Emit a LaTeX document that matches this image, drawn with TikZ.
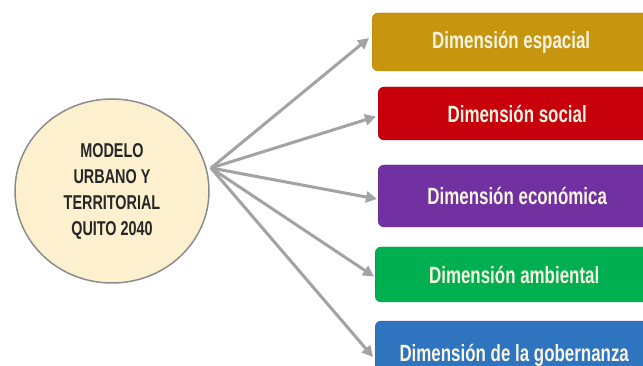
\documentclass[tikz,border=0pt]{standalone}
\usepackage{fontspec}
\setmainfont{Liberation Sans}[FakeStretch=0.72]
\usetikzlibrary{arrows.meta,shapes.geometric}
\definecolor{cfill}{HTML}{FDF0CF}
\definecolor{cline}{HTML}{8C8C8C}
\definecolor{arr}{HTML}{A3A3A3}
\definecolor{cgold}{HTML}{C8960E}
\definecolor{cred}{HTML}{C8000B}
\definecolor{cpurple}{HTML}{7131A1}
\definecolor{cgreen}{HTML}{00B050}
\definecolor{cblue}{HTML}{2F74BF}
\definecolor{btext}{HTML}{FAF4E2}
\begin{document}
\begin{tikzpicture}[x=1pt,y=-1pt,
  dimbox/.style={rounded corners=6pt, anchor=west, minimum width=278pt,
    text=btext, font=\bfseries\fontsize{23.5}{26}\selectfont, inner sep=0pt},
  link/.style={draw=arr, line width=3pt, -{Triangle[length=11pt,width=11pt]}}]
\useasboundingbox (0,0) rectangle (643,366);
\fill[white] (0,0) rectangle (643,366);
\node[ellipse, draw=cline, line width=1.5pt, fill=cfill, minimum width=194pt,
  minimum height=184pt, align=center, text=black!85,
  font=\bfseries\fontsize{20}{26}\selectfont] (model) at (112,191)
  {MODELO\\URBANO Y\\TERRITORIAL\\QUITO 2040};
\coordinate (hub) at (211,168);
\node[dimbox, fill=cgold, draw=cgold!85!black, minimum height=58pt] (b1) at (372,42) {Dimensión espacial};
\node[dimbox, fill=cred, draw=cred!85!black, minimum height=53pt] (b2) at (378,113.5) {Dimensión social};
\node[dimbox, fill=cpurple, draw=cpurple!85!black, minimum height=62pt] (b3) at (378,196) {Dimensión económica};
\node[dimbox, fill=cgreen, draw=cgreen!85!black, minimum height=55pt] (b4) at (375,274.5) {Dimensión ambiental};
\node[dimbox, fill=cblue, draw=cblue!85!black, minimum height=64pt, text depth=0pt] (b5) at (375,353) {Dimensión de la gobernanza};
\draw[link] (hub) -- ([xshift=-3pt,yshift=4pt]b1.west);
\draw[link] (hub) -- ([xshift=-2pt,yshift=-3pt]b2.west);
\draw[link] (hub) -- ([xshift=-1pt,yshift=-3pt]b3.west);
\draw[link] (hub) -- ([xshift=-1pt,yshift=-2pt]b4.west);
\draw[link] (hub) -- ([xshift=-2pt,yshift=-4pt]b5.west);
\end{tikzpicture}
\end{document}
